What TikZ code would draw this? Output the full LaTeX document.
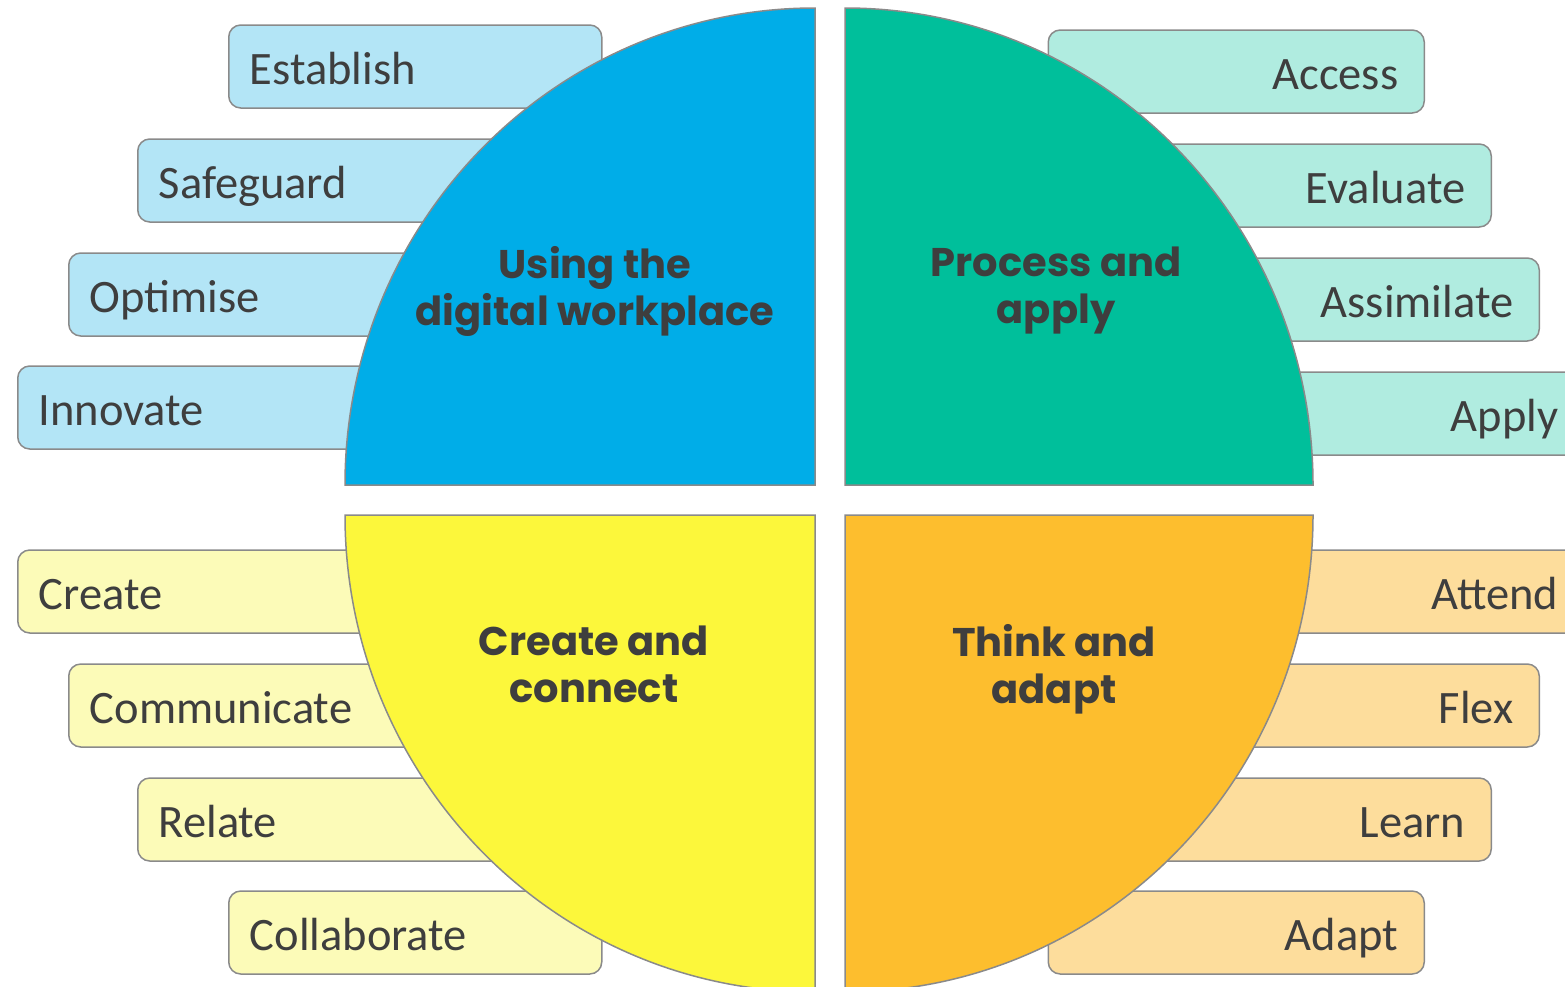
\documentclass[tikz,border=0pt]{standalone}
\usepackage{fontspec}
\setmainfont{Carlito}
\newfontfamily\titlefont{Poppins}
\definecolor{cblue}{HTML}{00ADE8}
\definecolor{cgreen}{HTML}{00BF9B}
\definecolor{cyellow}{HTML}{FCF73B}
\definecolor{corange}{HTML}{FDBE2E}
\definecolor{lblue}{HTML}{B3E5F6}
\definecolor{lgreen}{HTML}{B0ECE0}
\definecolor{lyellow}{HTML}{FCFBB8}
\definecolor{lorange}{HTML}{FDDD9C}
\definecolor{boxline}{HTML}{8A8A8A}
\definecolor{txt}{HTML}{3E3E3E}
\tikzset{
  lbox/.style={draw=boxline, line width=1.5pt, rounded corners=12pt,
    minimum height=83pt, inner xsep=21pt, inner ysep=0pt, anchor=west, align=left,
    font=\fontsize{46.5}{54}\selectfont, text=txt, text height=35pt, text depth=0pt},
  rbox/.style={lbox, inner xsep=26pt, anchor=east, align=right},
  quarter/.style={draw=boxline, line width=1.5pt},
  ttl/.style={align=center, text=txt, font=\titlefont\bfseries\fontsize{40}{47}\selectfont, inner sep=0pt}
}
\begin{document}
\begin{tikzpicture}[x=1pt, y=-1pt]
\useasboundingbox (0,0) rectangle (1565,986);
\clip (0,0) rectangle (1565,986);
% left blue boxes (right edge 601)
\node[lbox, fill=lblue, text width=331pt] (establish) at (228,66.5) {Establish};
\node[lbox, fill=lblue, text width=422pt] (safeguard) at (137,180.5) {Safeguard};
\node[lbox, fill=lblue, text width=491pt] (optimise) at (68,294.5) {Optimise};
\node[lbox, fill=lblue, text width=542pt] (innovate) at (17,407.5) {Innovate};
% left yellow boxes
\node[lbox, fill=lyellow, text width=542pt] (create) at (17,591.5) {Create};
\node[lbox, fill=lyellow, text width=491pt] (communicate) at (68,705.5) {Communicate};
\node[lbox, fill=lyellow, text width=422pt] (relate) at (137,819.5) {Relate};
\node[lbox, fill=lyellow, text width=331pt] (collaborate) at (228,932.5) {Collaborate};
% right green boxes (left edge 1049)
\node[rbox, fill=lgreen, text width=324pt] (access) at (1425,71.5) {Access};
\node[rbox, fill=lgreen, text width=391pt] (evaluate) at (1492,185.5) {Evaluate};
\node[rbox, fill=lgreen, text width=439pt] (assimilate) at (1540,299.5) {Assimilate};
\node[rbox, fill=lgreen, text width=484pt] (apply) at (1585,413.5) {Apply};
% right orange boxes
\node[rbox, fill=lorange, text width=484pt] (attend) at (1585,591.5) {Attend};
\node[rbox, fill=lorange, text width=439pt] (flex) at (1540,705.5) {Flex};
\node[rbox, fill=lorange, text width=391pt] (learn) at (1492,819.5) {Learn};
\node[rbox, fill=lorange, text width=324pt] (adapt) at (1425,932.5) {Adapt};
% quarters
\draw[quarter, fill=cblue] (815,485) -- (345,485) arc[start angle=180, end angle=270, x radius=470, y radius=477] -- cycle;
\draw[quarter, fill=cgreen] (845,485) -- (1313,485) arc[start angle=0, end angle=-90, x radius=468, y radius=477] -- cycle;
\draw[quarter, fill=cyellow] (815,515) -- (345,515) arc[start angle=180, end angle=90, x radius=470, y radius=477] -- cycle;
\draw[quarter, fill=corange] (845,515) -- (1313,515) arc[start angle=0, end angle=90, x radius=468, y radius=477] -- cycle;
% titles
\node[ttl] (t1) at (595,291) {Using the\\digital workplace};
\node[ttl] (t2) at (1056,291) {Process and\\apply};
\node[ttl] (t3) at (594,664) {Create and\\connect};
\node[ttl] (t4) at (1054,669) {Think and\\adapt};
\end{tikzpicture}
\end{document}
